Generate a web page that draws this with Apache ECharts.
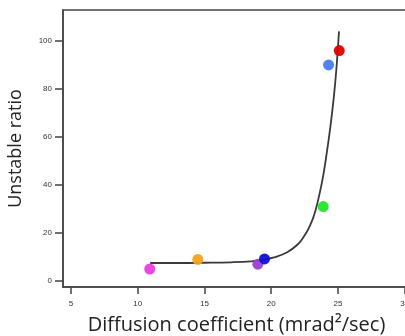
<!DOCTYPE html>
<html>
<head>
<meta charset="utf-8">
<script src="https://cdn.jsdelivr.net/npm/echarts@6/dist/echarts.min.js"></script>
<style>
html,body{margin:0;padding:0;background:#fff;}
#c{width:405px;height:336px;}
</style>
</head>
<body>
<div id="c"></div>
<script>
// Measured points
const pointX = [10.9, 14.5, 19.0, 19.5, 23.9, 24.3, 25.1];
const pointY = [5.0, 9.0, 7.0, 9.2, 31.0, 90.0, 96.0];
const pointColors = ['#e83fe0', '#f2a31e', '#9a3fd2', '#1010d8', '#22e62a', '#4a7cf0', '#e00000'];

// Fitted curve
const curveX = [10.93, 13, 15, 17, 18.5, 19.5, 20.2, 21.2, 22.0, 22.45, 22.9, 23.3, 23.8, 24.1, 24.43, 24.7, 24.88, 25.08];
const curveY = [7.5, 7.5, 7.6, 7.8, 8.2, 8.9, 9.8, 12, 15.3, 18.5, 23, 29, 41, 51, 64, 77, 88, 104];

const xTicks = [5, 10, 15, 20, 25, 30];
const yTicks = [0, 20, 40, 60, 80, 100];

const chart = echarts.init(document.getElementById('c'), null, {renderer: 'canvas'});
const font = '"Open Sans", "Liberation Sans", sans-serif';
chart.setOption({
  animation: false,
  backgroundColor: '#fff',
  grid: {left: 63, top: 10, width: 355, height: 277, containLabel: false, outerBoundsMode: 'none',
         show: true, borderColor: '#444', borderWidth: 1.5},
  xAxis: {
    type: 'value', min: 4.4, max: 31,
    name: 'Diffusion coefficient (mrad²/sec)', nameLocation: 'middle', nameGap: 28,
    nameTextStyle: {fontFamily: font, fontSize: 20, color: '#222', padding: [0, 8, 0, 0]},
    axisLine: {show: true, onZero: false, lineStyle: {color: '#444', width: 1.5}},
    axisTick: {show: true, length: 7, customValues: xTicks, lineStyle: {color: '#444', width: 1.5}},
    axisLabel: {customValues: xTicks, margin: 13, fontSize: 8, color: '#333', fontFamily: 'Liberation Sans, sans-serif', hideOverlap: false},
    splitLine: {show: false}
  },
  yAxis: {
    type: 'value', min: -2.5, max: 112.9,
    name: 'Unstable ratio', nameLocation: 'middle', nameGap: 38, nameRotate: 90,
    nameTextStyle: {fontFamily: font, fontSize: 18, color: '#222'},
    axisLine: {show: true, onZero: false, lineStyle: {color: '#444', width: 1.5}},
    axisTick: {show: true, length: 8, customValues: yTicks, lineStyle: {color: '#444', width: 1.5}},
    axisLabel: {customValues: yTicks, margin: 11, fontSize: 8, color: '#333', fontFamily: 'Liberation Sans, sans-serif'},
    splitLine: {show: false}
  },
  series: [
    {
      type: 'line', smooth: 0.4, showSymbol: false, z: 2,
      lineStyle: {color: '#3a3a3a', width: 1.8},
      data: curveX.map((x, i) => [x, curveY[i]])
    },
    {
      type: 'scatter', symbolSize: 11, z: 3,
      data: pointX.map((x, i) => ({value: [x, pointY[i]], itemStyle: {color: pointColors[i], opacity: 0.95}}))
    }
  ]
});
</script>
</body>
</html>
